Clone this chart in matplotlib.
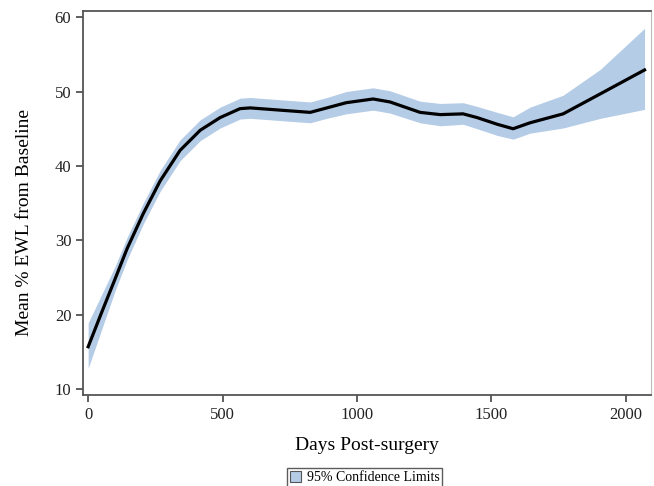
import matplotlib.pyplot as plt
import numpy as np

plt.rcParams['font.family'] = ['Liberation Serif', 'DejaVu Serif']

days = [0, 50, 100, 145, 205, 268, 342, 417, 491, 565, 603, 714, 826, 888,
        960, 1060, 1123, 1235, 1310, 1395, 1447, 1522, 1581, 1644, 1767,
        1906, 2070]
mean = [15.7, 20.3, 24.8, 28.9, 33.6, 38.0, 42.1, 44.8, 46.5, 47.7, 47.8,
        47.5, 47.2, 47.8, 48.5, 49.0, 48.6, 47.2, 46.9, 47.0, 46.5, 45.6,
        45.0, 45.8, 47.0, 49.7, 52.9]
lower = [12.8, 18.0, 23.2, 27.4, 32.2, 36.6, 40.7, 43.4, 45.1, 46.3, 46.4,
         46.1, 45.8, 46.4, 47.0, 47.5, 47.1, 45.8, 45.4, 45.6, 45.0, 44.1,
         43.6, 44.4, 45.1, 46.4, 47.6]
upper = [18.9, 22.7, 26.5, 30.4, 35.0, 39.4, 43.5, 46.2, 47.9, 49.1, 49.2,
         48.9, 48.6, 49.2, 50.0, 50.5, 50.1, 48.7, 48.4, 48.5, 48.0, 47.2,
         46.6, 47.9, 49.5, 53.0, 58.5]

fig = plt.figure(figsize=(6.54, 4.86), dpi=100)
ax = fig.add_axes([0.127, 0.187, 0.868, 0.79])

band = ax.fill_between(days, lower, upper, color='#b5cce7', lw=0,
                       label='95% Confidence Limits')
ax.plot(days, mean, color='black', lw=2.3)

ax.set_xlim(-19, 2093)
ax.set_ylim(9.2, 60.8)
ax.set_xticks([0, 500, 1000, 1500, 2000])
ax.set_yticks([10, 20, 30, 40, 50, 60])
ax.tick_params(labelsize=12, length=5, width=1.2, color='#444444',
               labelcolor='#222222')
for s in ['left', 'bottom', 'top']:
    ax.spines[s].set_color('#555555')
    ax.spines[s].set_linewidth(1.3)
ax.spines['right'].set_color('#bbbbbb')

ax.set_xlabel('Days Post-surgery', fontsize=14, labelpad=10)
ax.set_ylabel('Mean % EWL from Baseline', fontsize=14)
ax.yaxis.set_label_coords(-0.088, 0.45)

leg = fig.legend(handles=[band], loc='center', bbox_to_anchor=(0.558, 0.017),
                 fontsize=10, frameon=True, fancybox=False, edgecolor='#333333',
                 handlelength=0.8, handleheight=0.8, borderpad=0.2,
                 handletextpad=0.4)
leg.legend_handles[0].set_edgecolor('#555555')
leg.legend_handles[0].set_linewidth(0.8)

fig.savefig('out.png', dpi=100)
